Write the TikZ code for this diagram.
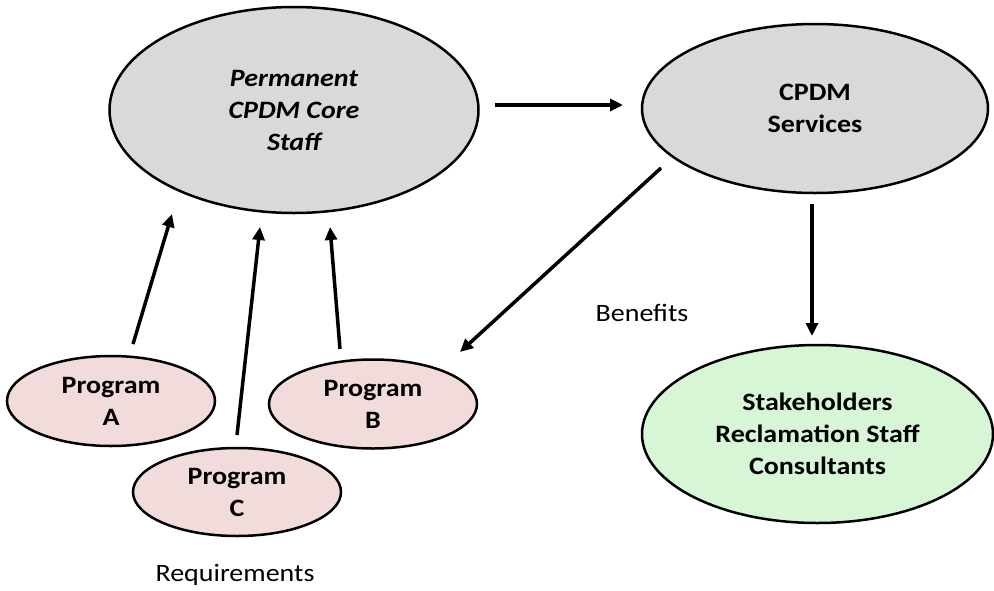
\documentclass[tikz,border=0pt]{standalone}
\usepackage{fontspec}
\setmainfont{Carlito}[FakeStretch=1.12]
\usetikzlibrary{shapes.geometric,arrows.meta}
\definecolor{coregray}{RGB}{217,217,217}
\definecolor{progpink}{RGB}{242,220,219}
\definecolor{stakegreen}{RGB}{214,246,214}
\begin{document}
\begin{tikzpicture}[x=1pt,y=-1pt,
  bubble/.style={ellipse, draw=black, line width=2.5pt, inner sep=0pt, align=center,
    font=\fontsize{25}{32}\selectfont\bfseries},
  link/.style={line width=3.5pt, -{Triangle[length=13pt,width=12pt]}},
  caption/.style={font=\fontsize{25}{32}\selectfont}]
\useasboundingbox (0,0) rectangle (994,590);

% main bubbles
\node[bubble, fill=coregray, minimum width=369pt, minimum height=206pt] (core) at (294,110)
  {\itshape Permanent\\\itshape CPDM Core\\\itshape Staff};
\node[bubble, fill=coregray, minimum width=346pt, minimum height=169pt] (serv) at (815,108.5)
  {CPDM\\Services};
\node[bubble, fill=stakegreen, minimum width=351pt, minimum height=178pt] (stake) at (817.5,434)
  {Stakeholders\\Reclamation Staff\\Consultants};

% programs
\node[bubble, fill=progpink, minimum width=208pt, minimum height=90pt] (pa) at (111,401) {Program\\A};
\node[bubble, fill=progpink, minimum width=208pt, minimum height=89pt] (pb) at (373,404) {Program\\B};
\node[bubble, fill=progpink, minimum width=208pt, minimum height=88pt] (pc) at (237,492) {Program\\C};

% captions
\node[caption] (benefits) at (642,313) {Benefits};
\node[caption] (reqs) at (235,575) {Requirements};

% arrow end points
\coordinate (a0) at (133,344);  \coordinate (a1) at (172,214);
\coordinate (c0) at (237,435);  \coordinate (c1) at (260,227);
\coordinate (b0) at (340,349);  \coordinate (b1) at (330,227);
\coordinate (s0) at (495,105);  \coordinate (s1) at (623,105);
\coordinate (f0) at (661,168);  \coordinate (f1) at (460,352);
\coordinate (d0) at (812,204);  \coordinate (d1) at (812,336);

\draw[link] (a0) -- (a1);
\draw[link] (c0) -- (c1);
\draw[link] (b0) -- (b1);
\draw[link] (s0) -- (s1);
\draw[link] (f0) -- (f1);
\draw[link] (d0) -- (d1);
\end{tikzpicture}
\end{document}
